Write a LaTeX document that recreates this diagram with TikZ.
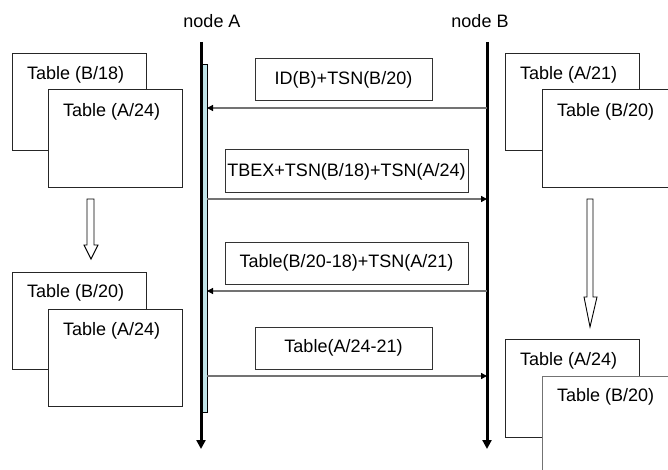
\documentclass[tikz,border=0pt]{standalone}
\usepackage{fontspec}
\setmainfont{Liberation Sans}
\usetikzlibrary{arrows.meta}
\definecolor{barcyan}{RGB}{192,228,232}
\tikzset{
  tbl/.style={draw=black!85, line width=1pt, fill=white},
  lbl/.style={font=\fontsize{18}{21}\selectfont, inner sep=0pt},
  tbltxt/.style={font=\fontsize{18}{21}\selectfont, inner sep=0pt, anchor=west},
  msgbox/.style={draw=black!80, line width=1pt, fill=white, font=\fontsize{18}{21}\selectfont, inner sep=0pt},
  life/.style={line width=3pt, -{Triangle[width=9pt,length=9pt]}},
  msg/.style={draw=black!55, line width=1.3pt, -{Triangle[width=6pt,length=6pt,color=black]}},
  hollow/.style={draw=black, line width=0.9pt, fill=white},
}
\begin{document}
\begin{tikzpicture}[x=1pt,y=-1pt]
\useasboundingbox (0,0) rectangle (668,470);
\clip (0,0) rectangle (668,470);
% labels
\node[lbl] (la) at (212,21) {node A};
\node[lbl] (lb) at (480,21) {node B};
% lifelines
\coordinate (atop) at (201,42);
\coordinate (abot) at (201,449);
\coordinate (btop) at (487,42);
\coordinate (bbot) at (487,449);
\draw[life] (btop) -- (bbot);
\node[draw=black, line width=0.8pt, fill=barcyan, minimum width=6pt, minimum height=348pt, inner sep=0pt, anchor=north west] (bar) at (201,64) {};
\draw[life] (atop) -- (abot);
% messages
\node[msgbox, minimum width=177pt, minimum height=42pt] (m1) at (343.5,80) {ID(B)+TSN(B/20)};
\node[msgbox, minimum width=243pt, minimum height=43pt] (m2) at (346.5,171.5) {TBEX+TSN(B/18)+TSN(A/24)};
\node[msgbox, minimum width=243pt, minimum height=42pt] (m3) at (346.5,263) {Table(B/20-18)+TSN(A/21)};
\node[msgbox, minimum width=177pt, minimum height=42pt] (m4) at (343.5,348) {Table(A/24-21)};
\coordinate (b1) at (487,108); \coordinate (a1) at (207,108);
\coordinate (a2) at (207,199); \coordinate (b2) at (487,199);
\coordinate (b3) at (487,291); \coordinate (a3) at (207,291);
\coordinate (a4) at (207,376); \coordinate (b4) at (487,376);
\draw[msg] (b1) -- (a1);
\draw[msg] (a2) -- (b2);
\draw[msg] (b3) -- (a3);
\draw[msg] (a4) -- (b4);
% left top tables
\node[tbl, minimum width=134pt, minimum height=97pt, anchor=north west, inner sep=0pt] (lt1) at (12,53) {};
\node[tbltxt] at (27,75) {Table (B/18)};
\node[tbl, minimum width=134pt, minimum height=98pt, anchor=north west, inner sep=0pt] (lt2) at (48,89) {};
\node[tbltxt] at (63,112) {Table (A/24)};
% left bottom tables
\node[tbl, minimum width=134pt, minimum height=97pt, anchor=north west, inner sep=0pt] (lb1) at (12,272) {};
\node[tbltxt] at (27,293) {Table (B/20)};
\node[tbl, minimum width=134pt, minimum height=97pt, anchor=north west, inner sep=0pt] (lb2) at (48,309) {};
\node[tbltxt] at (63,331) {Table (A/24)};
% right top tables
\node[tbl, minimum width=134pt, minimum height=97pt, anchor=north west, inner sep=0pt] (rt1) at (505,53) {};
\node[tbltxt] at (520,75) {Table (A/21)};
\node[tbl, minimum width=134pt, minimum height=98pt, anchor=north west, inner sep=0pt] (rt2) at (542,89) {};
\node[tbltxt] at (557,112) {Table (B/20)};
% right bottom tables
\node[tbl, minimum width=134pt, minimum height=98pt, anchor=north west, inner sep=0pt] (rb1) at (505,339) {};
\node[tbltxt] at (520,361) {Table (A/24)};
\node[tbl, draw=black!55, minimum width=134pt, minimum height=98pt, anchor=north west, inner sep=0pt] (rb2) at (542,376) {};
\node[tbltxt] at (557,397) {Table (B/20)};
% hollow arrows
\draw[hollow] (87,199) -- (94,199) -- (94,245) -- (98,245) -- (91,259) -- (84,245) -- (87,245) -- cycle;
\draw[hollow] (587,199) -- (593,199) -- (593,297) -- (597,297) -- (590,327) -- (584,297) -- (587,297) -- cycle;
\end{tikzpicture}
\end{document}
